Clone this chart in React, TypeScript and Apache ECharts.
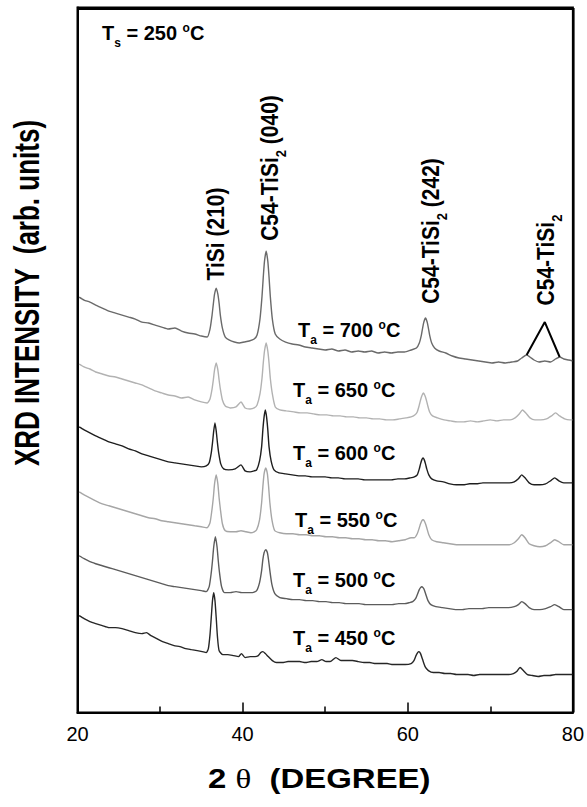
import React, { useEffect, useRef } from "react";
import * as echarts from "echarts";

// 2θ range and tick settings
const xMin = 20;
const xMax = 80;
const xInterval = 20;
// arbitrary intensity scale (0 = bottom of plot)
const yMin = 0;
const yMax = 706;

const annealTemps = ["700", "650", "600", "550", "500", "450"];
const substrateTemp = "250";

// [2θ (deg), intensity (arb. units)]
const s700: number[][] = [
  [20.2,416],[20.8,413],[21.5,411],[22.2,408],[23.0,405],[23.8,402],[24.6,400],[25.4,398],[26.2,396],[27.0,394],[27.8,391],[28.6,390],[29.4,388],[30.2,386],[31.0,384],[31.8,385],[32.6,382],[33.4,380],[34.2,379],[35.0,377],[35.7,376],[36.05,384],[36.3,398],[36.45,409],[36.6,419],[36.8,425],[37.0,419],[37.15,410],[37.3,398],[37.55,385],[37.9,376],[38.4,373],[39.0,371],[39.6,370],[40.2,371],[40.8,372],[41.4,374],[41.75,378],[42.1,394],[42.35,417],[42.5,436],[42.65,452],[42.85,462],[43.05,452],[43.2,436],[43.35,417],[43.6,394],[43.95,379],[44.5,374],[45.2,371],[46.0,369],[46.8,368],[47.6,366],[48.4,365],[49.2,364],[50.0,363],[50.8,364],[51.6,362],[52.4,363],[53.2,361],[54.0,362],[54.8,361],[55.6,362],[56.4,360],[57.2,361],[58.0,360],[58.8,361],[59.6,361],[60.4,363],[61.05,365],[61.4,370],[61.65,378],[61.8,385],[61.95,391],[62.15,395],[62.35,391],[62.5,385],[62.65,378],[62.9,370],[63.25,365],[63.8,362],[64.6,360],[65.4,357],[66.2,355],[67.0,354],[67.8,353],[68.6,352],[69.4,351],[70.2,350],[71.0,351],[71.8,350],[72.6,351],[73.3,352],[73.8,355],[74.4,358],[74.8,356],[75.3,353],[75.9,351],[76.6,352],[77.3,351],[77.9,354],[78.4,356],[78.9,354],[79.5,353],[80,352]
];
const s650: number[][] = [
  [20.2,349],[20.8,346],[21.5,344],[22.2,341],[23.0,339],[23.8,337],[24.6,336],[25.4,334],[26.2,332],[27.0,330],[27.8,328],[28.6,325],[29.4,322],[30.2,320],[31.0,318],[31.8,317],[32.6,315],[33.4,316],[34.2,313],[35.0,311],[35.7,310],[36.05,314],[36.3,324],[36.45,333],[36.6,343],[36.8,350],[37.0,343],[37.15,333],[37.3,324],[37.55,313],[37.9,307],[38.5,305],[39.2,306],[39.8,311],[40.3,305],[40.9,304],[41.4,305],[41.75,308],[42.1,319],[42.35,335],[42.5,350],[42.65,362],[42.85,370],[43.05,362],[43.2,350],[43.35,335],[43.6,319],[43.95,306],[44.5,303],[45.3,302],[46.2,301],[47.0,300],[47.8,300],[48.6,299],[49.4,298],[50.2,298],[51.0,297],[51.8,297],[52.6,296],[53.4,296],[54.2,295],[55.0,295],[55.8,294],[56.6,294],[57.4,293],[58.2,293],[59.0,294],[59.8,295],[60.4,296],[60.85,298],[61.15,301],[61.4,308],[61.55,313],[61.7,317],[61.9,320],[62.1,317],[62.25,313],[62.4,308],[62.65,301],[63.0,297],[63.6,295],[64.4,293],[65.2,292],[66.0,291],[66.8,291],[67.6,292],[68.4,291],[69.2,292],[70.0,293],[70.8,292],[71.6,293],[72.4,293],[73.0,295],[73.5,299],[73.9,303],[74.3,300],[74.8,295],[75.4,293],[76.1,293],[76.8,294],[77.4,297],[77.9,300],[78.4,297],[79.0,294],[79.6,293],[80,293]
];
const s600: number[][] = [
  [20.2,286],[20.8,283],[21.5,280],[22.2,277],[23.0,274],[23.8,271],[24.6,269],[25.4,267],[26.2,264],[27.0,262],[27.8,259],[28.6,257],[29.4,255],[30.2,253],[31.0,251],[31.8,250],[32.6,249],[33.4,248],[34.2,247],[35.0,246],[35.6,247],[35.95,250],[36.2,260],[36.35,270],[36.5,282],[36.65,290],[36.8,282],[36.95,270],[37.1,260],[37.35,249],[37.7,244],[38.3,243],[39.1,244],[39.8,248],[40.3,242],[40.9,241],[41.4,242],[41.7,243],[42.05,252],[42.3,266],[42.45,283],[42.6,296],[42.75,303],[42.9,296],[43.05,283],[43.2,266],[43.45,252],[43.8,243],[44.4,240],[45.2,239],[46.0,238],[46.8,237],[47.6,237],[48.4,236],[49.2,236],[50.0,236],[50.8,235],[51.6,235],[52.4,234],[53.2,234],[54.0,234],[54.8,233],[55.6,233],[56.4,233],[57.2,233],[58.0,233],[58.8,234],[59.6,234],[60.3,235],[60.8,236],[61.15,238],[61.4,244],[61.55,249],[61.7,253],[61.85,255],[62.0,253],[62.15,249],[62.3,244],[62.55,238],[62.9,234],[63.5,232],[64.3,231],[65.1,229],[65.9,228],[66.7,228],[67.5,229],[68.3,229],[69.1,230],[69.9,230],[70.7,230],[71.5,230],[72.3,230],[72.9,231],[73.4,234],[73.8,238],[74.2,235],[74.7,230],[75.3,228],[76.0,228],[76.7,229],[77.3,232],[77.8,235],[78.3,232],[78.9,230],[79.5,230],[80,230]
];
const s550: number[][] = [
  [20.2,221],[20.8,218],[21.5,215],[22.2,212],[23.0,209],[23.8,207],[24.6,205],[25.4,203],[26.2,201],[27.0,199],[27.8,197],[28.6,195],[29.4,194],[30.2,192],[31.0,191],[31.8,190],[32.6,189],[33.4,188],[34.2,187],[35.0,186],[35.7,185],[36.05,190],[36.3,204],[36.45,215],[36.6,229],[36.8,238],[37.0,229],[37.15,215],[37.3,204],[37.55,189],[37.9,182],[38.5,181],[39.2,181],[39.8,182],[40.4,181],[41.0,180],[41.4,181],[41.7,183],[42.05,193],[42.3,210],[42.45,226],[42.6,239],[42.8,245],[43.0,239],[43.15,226],[43.3,210],[43.55,193],[43.9,182],[44.5,180],[45.3,179],[46.1,179],[46.9,178],[47.7,178],[48.5,177],[49.3,177],[50.1,176],[50.9,176],[51.7,175],[52.5,175],[53.3,174],[54.1,174],[54.9,173],[55.7,173],[56.5,172],[57.3,172],[58.1,171],[58.9,172],[59.7,173],[60.4,175],[60.8,175],[61.15,179],[61.4,185],[61.55,189],[61.7,192],[61.85,193],[62.0,192],[62.15,189],[62.3,185],[62.55,178],[62.9,173],[63.5,171],[64.3,170],[65.1,169],[65.9,168],[66.7,168],[67.5,168],[68.3,168],[69.1,168],[69.9,168],[70.7,168],[71.5,168],[72.3,168],[72.9,170],[73.4,174],[73.8,178],[74.2,175],[74.7,169],[75.3,167],[76.0,166],[76.7,167],[77.3,170],[77.8,173],[78.3,171],[78.9,168],[79.5,168],[80,168]
];
const s500: number[][] = [
  [20.2,157],[20.8,154],[21.5,151],[22.2,149],[23.0,147],[23.8,145],[24.6,143],[25.4,141],[26.2,139],[27.0,137],[27.8,135],[28.6,133],[29.4,131],[30.2,129],[31.0,127],[31.8,126],[32.6,125],[33.4,124],[34.2,123],[35.0,122],[35.6,121],[35.95,126],[36.2,140],[36.35,152],[36.5,166],[36.7,176],[36.9,166],[37.05,152],[37.2,140],[37.45,126],[37.8,120],[38.5,120],[39.2,121],[39.9,120],[40.6,120],[41.2,120],[41.7,122],[42.05,130],[42.3,142],[42.45,153],[42.6,160],[42.8,163],[43.0,160],[43.15,152],[43.3,142],[43.55,128],[43.9,119],[44.5,115],[45.3,114],[46.1,113],[46.9,113],[47.7,112],[48.5,112],[49.3,111],[50.1,111],[50.9,110],[51.7,110],[52.5,109],[53.3,109],[54.1,109],[54.9,108],[55.7,108],[56.5,108],[57.3,108],[58.1,108],[58.9,109],[59.6,109],[60.2,110],[60.6,111],[60.95,114],[61.2,119],[61.4,123],[61.55,125],[61.7,126],[61.85,125],[62.0,123],[62.2,118],[62.45,112],[62.8,108],[63.4,106],[64.2,105],[65.0,104],[65.8,103],[66.6,103],[67.4,104],[68.2,104],[69.0,104],[69.8,105],[70.6,105],[71.4,105],[72.2,105],[72.9,106],[73.4,108],[73.8,111],[74.2,109],[74.7,105],[75.3,103],[76.0,103],[76.7,104],[77.3,106],[77.8,108],[78.3,106],[78.9,103],[79.5,103],[80,103]
];
const s450: number[][] = [
  [20.2,97],[20.8,94],[21.5,91],[22.2,89],[23.0,87],[23.8,85],[24.6,85],[25.4,84],[26.2,82],[27.0,80],[27.8,79],[28.35,80],[28.9,77],[29.6,74],[30.3,71],[31.0,69],[31.7,67],[32.4,66],[33.1,64],[33.8,63],[34.5,62],[35.1,61],[35.6,60],[35.85,64],[36.05,78],[36.2,95],[36.35,112],[36.5,120],[36.65,112],[36.8,95],[36.95,76],[37.15,62],[37.6,58],[38.2,58],[38.9,57],[39.5,56],[39.85,59],[40.3,55],[40.9,56],[41.5,56],[41.9,57],[42.2,60],[42.45,61],[42.75,59],[43.1,56],[43.6,52],[44.1,50],[44.8,50],[45.5,51],[46.2,51],[46.9,51],[47.6,50],[48.3,51],[49.0,51],[49.6,53],[50.1,51],[50.6,51],[51.3,55],[51.9,52],[52.6,52],[53.3,52],[54.0,51],[54.7,50],[55.4,50],[56.1,49],[56.8,49],[57.5,49],[58.2,48],[58.9,48],[59.7,48],[60.4,49],[60.75,52],[61.0,57],[61.2,60],[61.35,61],[61.55,59],[61.8,53],[62.1,46],[62.5,42],[63.1,40],[63.8,40],[64.5,39],[65.2,39],[65.9,38],[66.6,38],[67.3,38],[68.0,37],[68.7,38],[69.4,38],[70.1,38],[70.8,38],[71.5,38],[72.2,38],[72.8,39],[73.2,41],[73.6,45],[74.0,42],[74.5,38],[75.1,37],[75.8,36],[76.5,37],[77.2,37],[77.9,38],[78.6,38],[79.3,38],[80,38]
];
// V-shaped marker pointing to the two small C54-TiSi2 peaks
const vMarker: number[][] = [[74.4, 358], [76.6, 391], [78.4, 356]];

const curves = [s700, s650, s600, s550, s500, s450];
const curveColors = ["#6a6a6a", "#b2b2b2", "#1e1e1e", "#a6a6a6", "#5c5c5c", "#262626"];

const FONT = "'Liberation Sans', Arial, Helvetica, sans-serif";

const rich = {
  m: { fontSize: 20, fontWeight: "bold", fontFamily: FONT, fill: "#000" },
  s: { fontSize: 12, fontWeight: "bold", fontFamily: FONT, fill: "#000", padding: [20, 0, 0, 0] },
  u: { fontSize: 12, fontWeight: "bold", fontFamily: FONT, fill: "#000", padding: [0, 0, 10, 0] },
};
const richPeak = {
  m: { fontSize: 21, fontWeight: "bold", fontFamily: FONT, fill: "#000" },
  s: { fontSize: 13, fontWeight: "bold", fontFamily: FONT, fill: "#000", padding: [20, 0, 0, 0] },
};

const GRID = { left: 77.5, right: 12, top: 7.5, bottom: 94.5 };
const W = 587;
const H = 807;

export default function App() {
  const ref = useRef<HTMLDivElement>(null);
  useEffect(() => {
    if (!ref.current) return;
    const chart = echarts.init(ref.current, null, { renderer: "svg" });

    const labelYs = [330, 390, 453, 520, 580, 638];
    const labelXs = [298, 293, 293, 295, 293, 293];
    const fx0 = GRID.left;
    const fx1 = W - GRID.right - 1.5;
    const fy0 = GRID.top + 1.5;
    const fy1 = H - GRID.bottom;

    const graphic: any[] = [
      {
        type: "polyline", z: 100, silent: true,
        shape: { points: [[fx0, fy0], [fx1, fy0], [fx1, fy1]] },
        style: { stroke: "#000", lineWidth: 2.2, fill: "transparent" },
      },
      {
        type: "text", x: 102, y: 33,
        style: { text: `{m|T}{s|s}{m| = ${substrateTemp} }{u|o}{m|C}`, rich, align: "left", verticalAlign: "middle" },
      },
      ...annealTemps.map((t, i) => ({
        type: "text", x: labelXs[i], y: labelYs[i],
        style: { text: `{m|T}{s|a}{m| = ${t} }{u|o}{m|C}`, rich, align: "left", verticalAlign: "middle" },
      })),
      {
        type: "text", x: 216, y: 234, rotation: Math.PI / 2, scaleY: 1.12,
        style: { text: "{m|TiSi (210)}", rich: richPeak, align: "center", verticalAlign: "middle" },
      },
      {
        type: "text", x: 270, y: 168, rotation: Math.PI / 2, scaleY: 1.12,
        style: { text: "{m|C54-TiSi}{s|2}{m| (040)}", rich: richPeak, align: "center", verticalAlign: "middle" },
      },
      {
        type: "text", x: 431, y: 231, rotation: Math.PI / 2, scaleY: 1.12,
        style: { text: "{m|C54-TiSi}{s|2}{m| (242)}", rich: richPeak, align: "center", verticalAlign: "middle" },
      },
      {
        type: "text", x: 546, y: 260, rotation: Math.PI / 2, scaleY: 1.12,
        style: { text: "{m|C54-TiSi}{s|2}", rich: richPeak, align: "center", verticalAlign: "middle" },
      },
      {
        type: "text", x: 27, y: 293, rotation: Math.PI / 2, scaleY: 1.35,
        style: {
          text: "XRD INTENSITY  (arb. units)", fontSize: 26, fontWeight: "bold", fontFamily: FONT,
          fill: "#000", align: "center", verticalAlign: "middle",
        },
      },
      {
        type: "text", x: 208, y: 779, scaleX: 1.22,
        style: {
          text: "{b|2 }{t|θ}{b|  (DEGREE)}",
          rich: {
            b: { fontSize: 27, fontWeight: "bold", fontFamily: FONT, fill: "#000" },
            t: { fontSize: 27, fontWeight: "normal", fontFamily: "'Liberation Serif', 'DejaVu Serif', serif", fill: "#000" },
          },
          align: "left", verticalAlign: "middle",
        },
      },
    ];

    chart.setOption({
      animation: false,
      backgroundColor: "#fff",
      grid: { ...GRID, show: true, borderColor: "#000", borderWidth: 2, backgroundColor: "transparent" },
      xAxis: {
        type: "value", min: xMin, max: xMax, interval: xInterval, position: "bottom",
        axisLine: { show: true, onZero: false, lineStyle: { color: "#000", width: 2 } },
        axisTick: { show: true, inside: true, length: 10, lineStyle: { color: "#000", width: 1.5 } },
        minorTick: { show: true, splitNumber: 2, length: 6, lineStyle: { color: "#000", width: 1.5 } },
        splitLine: { show: false },
        minorSplitLine: { show: false },
        axisLabel: { color: "#000", fontSize: 20, fontFamily: FONT, margin: 11 },
      },
      yAxis: {
        type: "value", min: yMin, max: yMax,
        axisLine: { show: true, onZero: false, lineStyle: { color: "#000", width: 2 } },
        axisTick: { show: false }, axisLabel: { show: false },
        splitLine: { show: false },
      },
      series: [
        ...curves.map((d, i) => ({
          type: "line", data: d, showSymbol: false, symbol: "none", smooth: 0.2,
          lineStyle: { color: curveColors[i], width: 1.4 },
          silent: true, z: 2,
        })),
        {
          type: "line", data: vMarker, showSymbol: false, symbol: "none",
          lineStyle: { color: "#000", width: 2 }, silent: true, z: 3,
        },
      ],
      graphic,
    });
    return () => chart.dispose();
  }, []);
  return <div ref={ref} style={{ position: "fixed", left: 0, top: 0, width: W, height: H }} />;
}
